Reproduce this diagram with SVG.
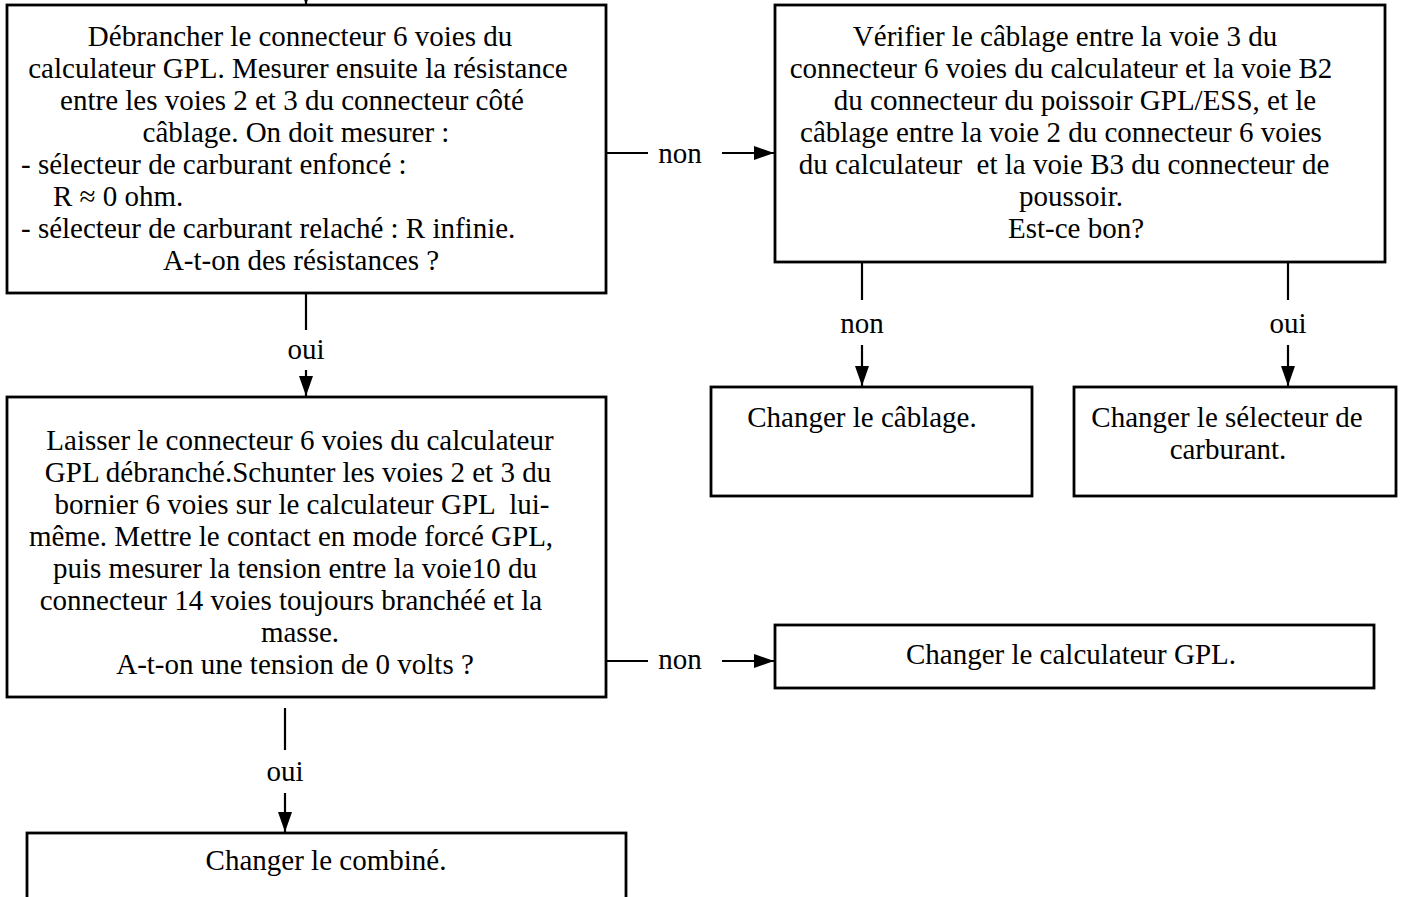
<svg xmlns="http://www.w3.org/2000/svg" width="1402" height="897" viewBox="0 0 1402 897">
<defs>
<style>
.box{fill:#fff;stroke:#000;stroke-width:2.8}
.ln{stroke:#000;stroke-width:2.2;fill:none}
.t{font-family:"Liberation Serif","Times New Roman",serif;font-size:29px;fill:#000}
.c{text-anchor:middle}
</style>
<marker id="ah" markerWidth="20" markerHeight="14" refX="20" refY="7" orient="auto" markerUnits="userSpaceOnUse">
<path d="M0,0 L20,7 L0,14 Z" fill="#000"/>
</marker>
</defs>
<rect width="1402" height="897" fill="#fff"/>
<g id="connectors">
<line class="ln" x1="306" y1="-20" x2="306" y2="5" marker-end="url(#ah)"/>
<line class="ln" x1="606" y1="153" x2="648" y2="153"/>
<line class="ln" x1="722" y1="153" x2="774" y2="153" marker-end="url(#ah)"/>
<text class="t c" x="680" y="163">non</text>
<line class="ln" x1="306" y1="293" x2="306" y2="330"/>
<line class="ln" x1="306" y1="370" x2="306" y2="396" marker-end="url(#ah)"/>
<text class="t c" x="306" y="359">oui</text>
<line class="ln" x1="862" y1="257" x2="862" y2="300"/>
<line class="ln" x1="862" y1="345" x2="862" y2="386" marker-end="url(#ah)"/>
<text class="t c" x="862" y="333">non</text>
<line class="ln" x1="1288" y1="257" x2="1288" y2="300"/>
<line class="ln" x1="1288" y1="345" x2="1288" y2="386" marker-end="url(#ah)"/>
<text class="t c" x="1288" y="333">oui</text>
<line class="ln" x1="606" y1="661" x2="648" y2="661"/>
<line class="ln" x1="722" y1="661" x2="774" y2="661" marker-end="url(#ah)"/>
<text class="t c" x="680" y="669">non</text>
<line class="ln" x1="285" y1="708" x2="285" y2="750"/>
<line class="ln" x1="285" y1="793" x2="285" y2="832" marker-end="url(#ah)"/>
<text class="t c" x="285" y="781">oui</text>
</g>
<g id="n1">
<rect class="box" x="7" y="5" width="599" height="288"/>
<text class="t c" x="300" y="46">Débrancher le connecteur 6 voies du</text>
<text class="t c" x="298" y="78">calculateur GPL. Mesurer ensuite la résistance</text>
<text class="t c" x="292" y="110">entre les voies 2 et 3 du connecteur côté</text>
<text class="t c" x="296" y="142">câblage. On doit mesurer :</text>
<text class="t" x="21" y="174">- sélecteur de carburant enfoncé :</text>
<text class="t" x="53" y="206">R ≈ 0 ohm.</text>
<text class="t" x="21" y="238">- sélecteur de carburant relaché : R infinie.</text>
<text class="t c" x="301" y="270">A-t-on des résistances ?</text>
</g>
<g id="n2">
<rect class="box" x="775" y="5" width="610" height="257"/>
<text class="t c" x="1065" y="46">Vérifier le câblage entre la voie 3 du</text>
<text class="t c" x="1061" y="78">connecteur 6 voies du calculateur et la voie B2</text>
<text class="t c" x="1075" y="110">du connecteur du poissoir GPL/ESS, et le</text>
<text class="t c" x="1061" y="142">câblage entre la voie 2 du connecteur 6 voies</text>
<text class="t c" x="1064" y="174" xml:space="preserve">du calculateur  et la voie B3 du connecteur de</text>
<text class="t c" x="1071" y="206">poussoir.</text>
<text class="t c" x="1076" y="238">Est-ce bon?</text>
</g>
<g id="n3">
<rect class="box" x="7" y="397" width="599" height="300"/>
<text class="t c" x="300" y="450">Laisser le connecteur 6 voies du calculateur</text>
<text class="t c" x="298" y="482">GPL débranché.Schunter les voies 2 et 3 du</text>
<text class="t c" x="302" y="514" xml:space="preserve">bornier 6 voies sur le calculateur GPL  lui-</text>
<text class="t c" x="291" y="546">même. Mettre le contact en mode forcé GPL,</text>
<text class="t c" x="295" y="578">puis mesurer la tension entre la voie10 du</text>
<text class="t c" x="291" y="610">connecteur 14 voies toujours branchéé et la</text>
<text class="t c" x="300" y="642">masse.</text>
<text class="t c" x="295" y="674">A-t-on une tension de 0 volts ?</text>
</g>
<g id="n4">
<rect class="box" x="775" y="625" width="599" height="63"/>
<text class="t c" x="1071" y="664">Changer le calculateur GPL.</text>
</g>
<g id="n5">
<rect class="box" x="27" y="833" width="599" height="80"/>
<text class="t c" x="326" y="870">Changer le combiné.</text>
</g>
<g id="n6">
<rect class="box" x="711" y="387" width="321" height="109"/>
<text class="t c" x="862" y="427">Changer le câblage.</text>
</g>
<g id="n7">
<rect class="box" x="1074" y="387" width="322" height="109"/>
<text class="t c" x="1227" y="427">Changer le sélecteur de</text>
<text class="t c" x="1228" y="459">carburant.</text>
</g>
</svg>
